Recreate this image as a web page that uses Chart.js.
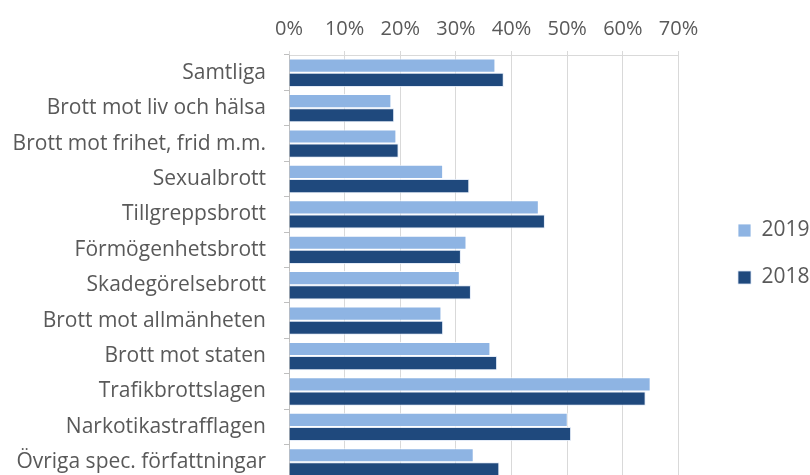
<!DOCTYPE html>
<html>
<head>
<meta charset="utf-8">
<script src="https://cdn.jsdelivr.net/npm/chart.js@4"></script>
<style>
html,body{margin:0;padding:0;background:#fff;overflow:hidden;}
#wrap{width:810px;height:480px;position:relative;}
</style>
</head>
<body>
<div id="wrap"><canvas id="c"></canvas></div>
<script>
const categories = [
  "Samtliga",
  "Brott mot liv och hälsa",
  "Brott mot frihet, frid m.m.",
  "Sexualbrott",
  "Tillgreppsbrott",
  "Förmögenhetsbrott",
  "Skadegörelsebrott",
  "Brott mot allmänheten",
  "Brott mot staten",
  "Trafikbrottslagen",
  "Narkotikastrafflagen",
  "Övriga spec. författningar"
];
const values2019 = [37.1, 18.4, 19.3, 27.7, 44.9, 31.9, 30.7, 27.4, 36.2, 65.0, 50.1, 33.2];
const values2018 = [38.6, 18.9, 19.7, 32.4, 46.0, 30.9, 32.7, 27.7, 37.4, 64.1, 50.7, 37.8];
const seriesNames = ["2019", "2018"];
const xTicks = [0, 10, 20, 30, 40, 50, 60, 70];

const FONT = "'Open Sans', sans-serif";
const TXT = "#595959";

const legendPlace = {
  id: 'legendPlace',
  afterLayout(chart) {
    const lg = chart.legend;
    if (!lg) return;
    const dx = 712 - lg.left;
    lg.left += dx; lg.right += dx;
    lg.top += 14; lg.bottom += 14;
  }
};

new Chart(document.getElementById('c'), {
  type: 'bar',
  data: {
    labels: categories,
    datasets: [
      { label: seriesNames[0], data: values2019, backgroundColor: '#8EB4E3', borderColor: 'rgba(255,255,255,0.8)', borderWidth: 1, categoryPercentage: 0.8, barPercentage: 1.0 },
      { label: seriesNames[1], data: values2018, backgroundColor: '#1F497D', borderColor: 'rgba(220,230,245,0.8)', borderWidth: 1, categoryPercentage: 0.8, barPercentage: 1.0 }
    ]
  },
  options: {
    indexAxis: 'y',
    responsive: true,
    maintainAspectRatio: false,
    animation: false,
    layout: { padding: { top: 0, left: 0, right: 24, bottom: 0 } },
    plugins: {
      tooltip: { enabled: false },
      legend: {
        position: 'right',
        align: 'center',
        labels: {
          boxWidth: 13, boxHeight: 13, padding: 26,
          color: TXT,
          font: { family: FONT, size: 21 }
        }
      }
    },
    scales: {
      x: {
        position: 'top',
        min: 0, max: 70,
        afterBuildTicks(scale) { scale.ticks = xTicks.map(v => ({ value: v })); },
        afterFit(scale) { scale.height = 55; scale.paddingLeft = 0; scale.paddingRight = 0; },
        ticks: {
          color: TXT, font: { family: FONT, size: 20 }, padding: 10,
          callback: v => v + '%'
        },
        grid: { color: '#D9D9D9', lineWidth: 1, tickLength: 4, drawTicks: true },
        border: { color: '#D9D9D9' }
      },
      y: {
        afterFit(scale) { scale.width = 289; scale.paddingTop = 0; scale.paddingBottom = 0; },
        ticks: { color: TXT, font: { family: FONT, size: 21 }, padding: 18, autoSkip: false },
        grid: { drawOnChartArea: false, color: '#BFBFBF', tickLength: 5, offset: true },
        border: { color: '#BFBFBF' }
      }
    }
  },
  plugins: [legendPlace]
});
</script>
</body>
</html>
